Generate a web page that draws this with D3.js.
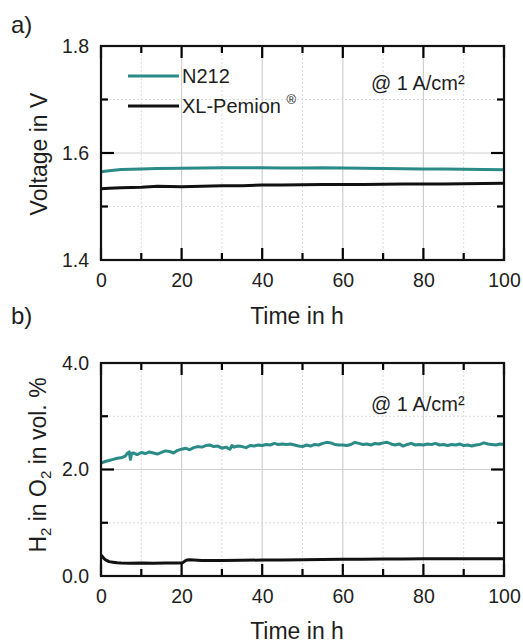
<!DOCTYPE html>
<html><head><meta charset="utf-8">
<script src="https://cdn.jsdelivr.net/npm/d3@7"></script>
<style>
body{margin:0;background:#fff;}
svg{display:block;font-family:"Liberation Sans",Arial,sans-serif;}
</style></head>
<body><svg id="c" width="523" height="643"></svg>
<script>
// ---- data ----
const xTicks = [0,20,40,60,80,100];
const xMinor = [10,30,50,70,90];
const voltTicks = [1.4,1.6,1.8];
const voltMinor = [1.5,1.7];
const h2Ticks = [0.0,2.0,4.0];
const h2Minor = [1.0,3.0];

const voltTime = [0,2,5,10,14,20,25,30,35,40,45,50,55,60,65,70,75,80,85,90,95,100];
const voltN212 = [1.565,1.567,1.569,1.570,1.571,1.5715,1.572,1.5725,1.5725,1.5725,1.572,1.572,1.5725,1.572,1.5715,1.571,1.5705,1.570,1.570,1.5695,1.569,1.5685];
const voltXL   = [1.533,1.534,1.535,1.536,1.538,1.537,1.538,1.539,1.539,1.540,1.540,1.5405,1.541,1.541,1.541,1.5415,1.542,1.542,1.542,1.5425,1.543,1.5435];

const h2Time = [0,1,2,3,4,5,6,6.5,7,7.3,7.6,8,9,10,11,12,13,14,15,16,17,18,19,20,21,22,23,24,25,26,27,28,29,30,31,32,32.5,33,34,35,36,37,38,39,40,41,42,43,44,45,46,47,48,49,50,51,52,53,54,55,56,57,58,59,60,61,62,63,64,65,66,67,68,69,70,71,72,73,74,75,76,77,78,79,80,81,82,83,84,85,86,87,88,89,90,91,92,93,94,95,96,97,98,99,100];
const h2N212 = [2.12,2.15,2.17,2.19,2.21,2.22,2.25,2.30,2.33,2.19,2.30,2.31,2.28,2.32,2.30,2.33,2.31,2.29,2.32,2.35,2.34,2.31,2.36,2.38,2.40,2.37,2.41,2.43,2.42,2.45,2.46,2.43,2.44,2.40,2.42,2.38,2.45,2.42,2.44,2.43,2.41,2.45,2.44,2.46,2.45,2.47,2.46,2.49,2.47,2.48,2.47,2.48,2.46,2.44,2.43,2.46,2.44,2.47,2.46,2.49,2.51,2.50,2.47,2.46,2.46,2.45,2.47,2.51,2.49,2.47,2.48,2.46,2.49,2.48,2.50,2.51,2.48,2.46,2.48,2.44,2.47,2.49,2.46,2.47,2.46,2.48,2.47,2.49,2.46,2.47,2.45,2.47,2.46,2.48,2.45,2.46,2.44,2.46,2.47,2.50,2.48,2.47,2.46,2.48,2.47];
const h2XLTime = [0,0.3,0.6,1,1.5,2,3,4,5,7,10,13,16,19,20.3,20.8,21.3,22,23,25,27,30,35,40,45,50,55,60,65,70,75,80,85,90,95,100];
const h2XL     = [0.39,0.37,0.34,0.31,0.29,0.27,0.26,0.25,0.245,0.24,0.245,0.24,0.245,0.245,0.25,0.28,0.30,0.305,0.30,0.29,0.29,0.29,0.295,0.30,0.30,0.305,0.31,0.315,0.315,0.32,0.32,0.325,0.325,0.325,0.325,0.325];

const seriesNames = ["N212","XL-Pemion"];
const colors = {N212:"#2a8b87", XL:"#111111"};

// ---- drawing ----
const svg = d3.select("#c");
const L = 101, R = 504;
const txt = "#1e1e1e";

function panel(top, bottom, yDomain, yTicks, yMinorT, fmt, tAxis, series) {
  const x = d3.scaleLinear().domain([0,100]).range([L,R]);
  const y = d3.scaleLinear().domain(yDomain).range([bottom,top]);
  const g = svg.append("g");
  // grid
  g.selectAll(null).data(xTicks.slice(1,-1)).join("line")
    .attr("x1",d=>x(d)).attr("x2",d=>x(d)).attr("y1",top).attr("y2",bottom)
    .attr("stroke","#cfcfcf").attr("stroke-width",1.2);
  g.selectAll(null).data(xMinor).join("line")
    .attr("x1",d=>x(d)).attr("x2",d=>x(d)).attr("y1",top).attr("y2",bottom)
    .attr("stroke","#dcdcdc").attr("stroke-width",1).attr("stroke-dasharray","2,2");
  g.selectAll(null).data(yTicks.slice(1,-1)).join("line")
    .attr("x1",L).attr("x2",R).attr("y1",d=>y(d)).attr("y2",d=>y(d))
    .attr("stroke","#cfcfcf").attr("stroke-width",1.2);
  g.selectAll(null).data(yMinorT).join("line")
    .attr("x1",L).attr("x2",R).attr("y1",d=>y(d)).attr("y2",d=>y(d))
    .attr("stroke","#dcdcdc").attr("stroke-width",1).attr("stroke-dasharray","2,2");
  // lines
  series.forEach(s=>{
    const line = d3.line().x((d,i)=>x(s.t[i])).y(d=>y(d));
    g.append("path").datum(s.v).attr("d",line).attr("fill","none")
      .attr("stroke",s.c).attr("stroke-width",3).attr("stroke-linejoin","round");
  });
  // inward ticks on all four sides
  const tk = g.append("g").attr("stroke","#000").attr("stroke-width",2.2);
  const xt = xTicks.map(v=>({v,len:12})).concat(xMinor.map(v=>({v,len:7})));
  tk.selectAll(null).data(xt).join("line")
    .attr("x1",d=>x(d.v)).attr("x2",d=>x(d.v)).attr("y1",bottom).attr("y2",d=>bottom-d.len);
  tk.selectAll(null).data(xt).join("line")
    .attr("x1",d=>x(d.v)).attr("x2",d=>x(d.v)).attr("y1",top).attr("y2",d=>top+d.len);
  const yt = yTicks.slice(1,-1).map(v=>({v,len:13})).concat(yMinorT.map(v=>({v,len:7})));
  tk.selectAll(null).data(yt).join("line")
    .attr("x1",L).attr("x2",d=>L+d.len).attr("y1",d=>y(d.v)).attr("y2",d=>y(d.v));
  tk.selectAll(null).data(yt).join("line")
    .attr("x1",R).attr("x2",d=>R-d.len).attr("y1",d=>y(d.v)).attr("y2",d=>y(d.v));
  // frame
  g.append("rect").attr("x",L).attr("y",top).attr("width",R-L).attr("height",bottom-top)
    .attr("fill","none").attr("stroke","#111").attr("stroke-width",2.2);
  // labels
  const labStyle = sel => { sel.select(".domain").remove(); sel.selectAll("line").remove();
    sel.selectAll("text").attr("fill",txt).attr("font-size",19.5).attr("font-family","Liberation Sans, Arial, sans-serif"); };
  g.append("g").attr("transform",`translate(0,${bottom})`).call(d3.axisBottom(x).tickValues(xTicks).tickSize(0).tickPadding(13)).call(labStyle);
  g.append("g").attr("transform",`translate(${L},0)`).call(d3.axisLeft(y).tickValues(yTicks).tickSize(0).tickPadding(12).tickFormat(fmt)).call(labStyle);
  // x title
  g.append("text").attr("x",297).attr("y",tAxis).attr("text-anchor","middle")
    .attr("font-size",23).attr("fill",txt).text("Time in h");
  return {x,y,g};
}

panel(46, 260, [1.4,1.8], voltTicks, voltMinor, d3.format(".1f"), 324, [
  {t:voltTime, v:voltN212, c:colors.N212},
  {t:voltTime, v:voltXL, c:colors.XL}
]);
panel(363, 576, [0,4], h2Ticks, h2Minor, d3.format(".1f"), 639, [
  {t:h2Time, v:h2N212, c:colors.N212},
  {t:h2XLTime, v:h2XL, c:colors.XL}
]);

// panel letters
svg.append("text").attr("x",11).attr("y",33).attr("font-size",24).attr("fill",txt).text("a)");
svg.append("text").attr("x",11).attr("y",324).attr("font-size",24).attr("fill",txt).text("b)");

// y titles
svg.append("text").attr("transform","translate(47,154) rotate(-90)").attr("text-anchor","middle")
  .attr("font-size",23).attr("fill",txt).text("Voltage in V");
const yb = svg.append("text").attr("transform","translate(46,465) rotate(-90)").attr("text-anchor","middle")
  .attr("font-size",23).attr("fill",txt);
yb.append("tspan").text("H");
yb.append("tspan").attr("font-size",15).attr("dy",5).text("2");
yb.append("tspan").attr("dy",-5).text(" in O");
yb.append("tspan").attr("font-size",15).attr("dy",5).text("2");
yb.append("tspan").attr("dy",-5).text(" in vol. %");

// legend
const leg = svg.append("g");
[[76,colors.N212],[106,colors.XL]].forEach(r=>{
  leg.append("line").attr("x1",128).attr("x2",179).attr("y1",r[0]).attr("y2",r[0])
    .attr("stroke",r[1]).attr("stroke-width",3);
});
leg.append("text").attr("x",182).attr("y",83).attr("font-size",20).attr("fill",txt).text(seriesNames[0]);
const t2 = leg.append("text").attr("x",182).attr("y",113).attr("font-size",20).attr("fill",txt);
t2.append("tspan").text(seriesNames[1]+" ");
t2.append("tspan").attr("font-size",13).attr("dy",-9).text("®");

// annotations
svg.append("text").attr("x",371).attr("y",90).attr("font-size",20).attr("fill",txt).text("@ 1 A/cm²");
svg.append("text").attr("x",371).attr("y",411).attr("font-size",20).attr("fill",txt).text("@ 1 A/cm²");
</script></body></html>
